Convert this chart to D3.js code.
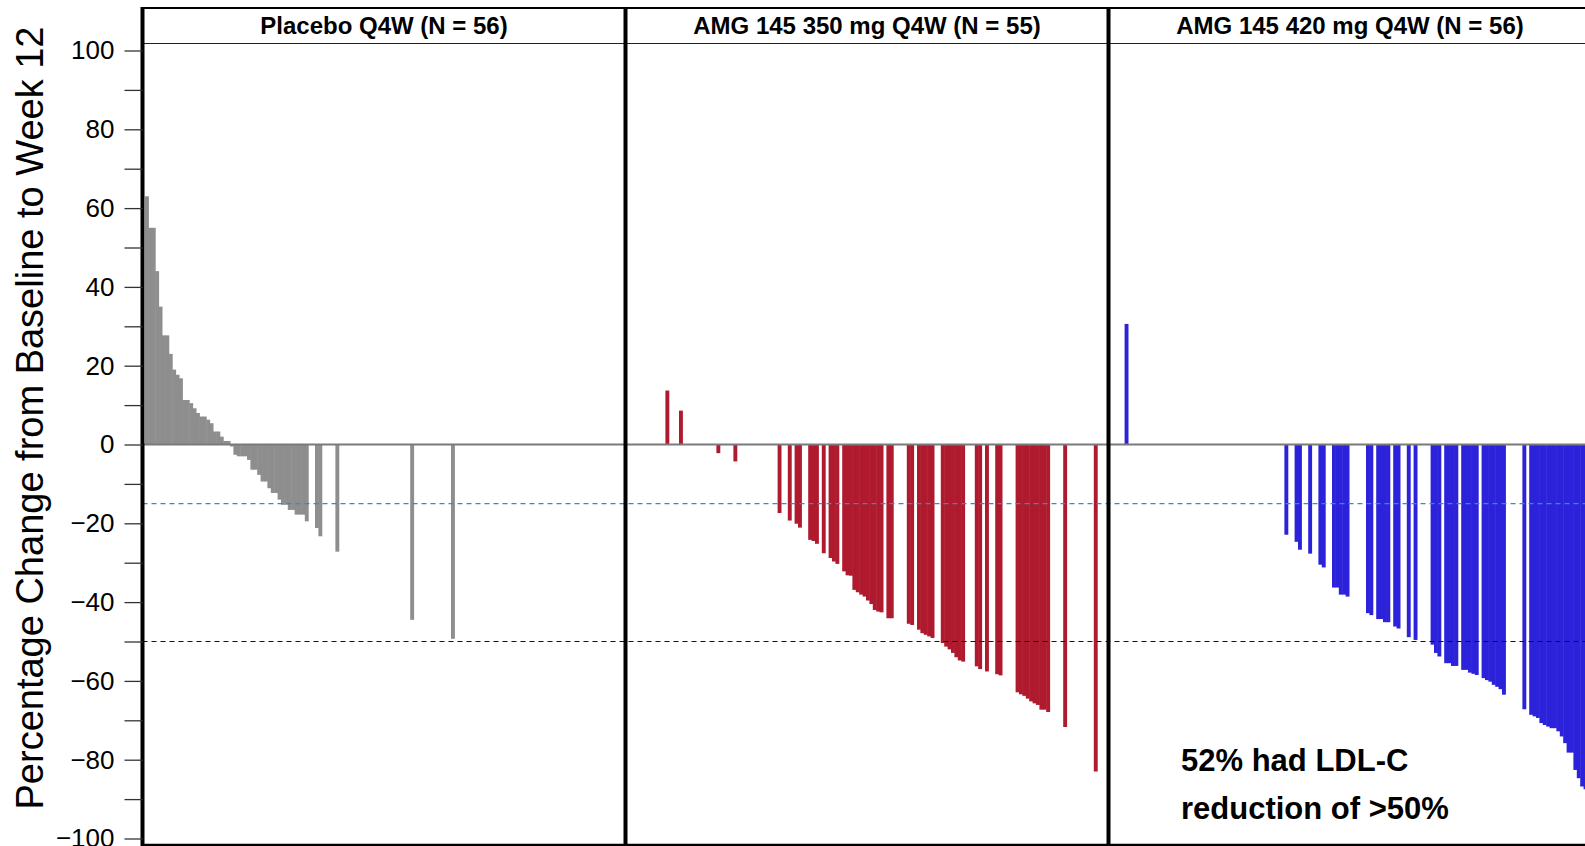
<!DOCTYPE html>
<html>
<head>
<meta charset="utf-8">
<script src="https://cdn.jsdelivr.net/npm/d3@7"></script>
<style>
  body { margin: 0; background: #fff; }
  svg { display: block; font-family: "Liberation Sans", Arial, sans-serif; }
</style>
</head>
<body>
<div id="chart"></div>
<script>
// panel titles
const panelTitles = ["Placebo Q4W (N = 56)", "AMG 145 350 mg Q4W (N = 55)", "AMG 145 420 mg Q4W (N = 56)"];
const panelColors = ["#8e8e8e", "#af1a2e", "#2b22da"];

// waterfall bars: slot = rank position in the panel, value = % change
const placeboSlots = [0,1,2,3,4,5,6,7,8,9,10,11,12,13,14,15,16,17,18,19,20,21,22,23,24,25,26,27,28,29,30,31,32,33,34,35,36,37,38,39,40,41,42,43,44,45,46,47,50,51,56,78,90];
const placeboValues = [63,55,55,44,35,27.7,27.7,23,19,17.7,16.8,11.3,11.3,10.5,9.2,8,7.1,7.1,6.3,5.4,3.3,3.3,2,0.9,0.9,-0.5,-2.6,-3,-3,-3,-3.9,-6.4,-6.4,-7.7,-9.4,-9.4,-11.1,-12.3,-12.3,-14,-15.3,-15.3,-16.6,-16.6,-17.8,-17.8,-17.8,-19.5,-21.2,-23.3,-27.2,-44.5,-49.3];

const dose350Slots = [11,15,26,31,44,47,49,50,53,54,55,57,59,60,61,63,64,65,66,67,68,69,70,71,72,73,74,76,77,82,83,85,86,87,88,89,92,93,94,95,96,97,98,102,103,105,108,109,114,115,116,117,118,119,120,121,122,123,128,137];
const dose350Values = [13.7,8.6,-2.2,-4.3,-17.4,-19.3,-20.1,-21.1,-24.2,-24.5,-25.2,-27.6,-28.8,-29.7,-30.3,-32.2,-33.2,-33.3,-36.9,-37.5,-38.1,-38.6,-39.6,-40.5,-42,-42.4,-42.6,-44.1,-44.1,-45.5,-45.8,-47,-47.9,-48.3,-48.7,-49.1,-50.4,-51.3,-52,-52.9,-54,-54.8,-55.1,-56.3,-57,-57.6,-58.3,-58.6,-62.9,-63.4,-63.8,-64.5,-65.2,-65.7,-66.1,-67.3,-67.3,-67.9,-71.7,-83];

const dose420Slots = [4,51,54,55,58,61,62,65,66,67,68,69,75,76,78,79,80,81,83,84,87,89,94,95,96,98,99,100,101,103,104,105,106,107,109,110,111,112,113,114,115,121,123,124,125,126,127,128,129,130,131,132,133,134,135,136,137,138,139,140,141];
const dose420Values = [30.6,-22.9,-24.7,-26.7,-27.7,-30.5,-31.2,-36.3,-36.3,-38.1,-38.1,-38.6,-42.8,-43.3,-44.3,-44.3,-45.1,-45.1,-46.2,-46.7,-48.9,-49.6,-50.8,-52.9,-53.8,-55.5,-55.5,-56.2,-56.2,-57.2,-57.2,-57.9,-58.2,-58.5,-59.3,-59.8,-60.2,-61,-61.5,-62.1,-63.5,-67.2,-68.6,-69,-69.4,-70.7,-71.2,-71.6,-72,-72,-72.8,-74.1,-75.8,-78.2,-78.2,-82.6,-84.7,-86.8,-87.5,-89,-90];

// reference lines
const refLines = [{ v: -15, color: "#2a8fd0" }, { v: -50, color: "#111" }];
const annotation = ["52% had LDL-C", "reduction of >50%"];

const panels = [
  { slots: placeboSlots, values: placeboValues },
  { slots: dose350Slots, values: dose350Values },
  { slots: dose420Slots, values: dose420Values }
];

const width = 1585, height = 846;
const frameTop = 8, headerBottom = 43.5, frameBottom = 845;
const panelW = 483;

const svg = d3.select("#chart").append("svg")
  .attr("width", width).attr("height", height);

const y = d3.scaleLinear().domain([-100, 100]).range([838.5, 50.5]);
const px = d3.scaleLinear().domain([0, 3]).range([142.5, 142.5 + 3 * panelW]);
const sx = d3.scaleLinear().domain([0, 141]).range([2.5, 2.5 + 141 * 3.4]);
const bw = sx(1) - sx(0);

// bars
panels.forEach((p, i) => {
  const bars = p.slots.map((s, k) => ({ s: s, v: p.values[k] }));
  svg.append("g")
    .selectAll("rect")
    .data(bars)
    .enter()
    .append("rect")
    .attr("x", d => px(i) + sx(d.s))
    .attr("width", bw + 0.5)
    .attr("y", d => y(Math.max(0, d.v)))
    .attr("height", d => Math.abs(y(d.v) - y(0)))
    .attr("fill", panelColors[i]);
});

// zero line
svg.append("line")
  .attr("x1", px(0)).attr("x2", width)
  .attr("y1", y(0)).attr("y2", y(0))
  .attr("stroke", "#7a7a7a").attr("stroke-width", 2);

// dashed reference lines
svg.selectAll(".ref")
  .data(refLines)
  .enter()
  .append("line")
  .attr("class", "ref")
  .attr("x1", px(0)).attr("x2", width)
  .attr("y1", d => y(d.v)).attr("y2", d => y(d.v))
  .attr("stroke", d => d.color)
  .attr("stroke-width", 1.2)
  .attr("stroke-dasharray", "5,4");

// frame
svg.append("line")
  .attr("x1", px(0)).attr("x2", width)
  .attr("y1", frameTop).attr("y2", frameTop)
  .attr("stroke", "#000").attr("stroke-width", 2);
svg.append("line")
  .attr("x1", px(0)).attr("x2", width)
  .attr("y1", headerBottom).attr("y2", headerBottom)
  .attr("stroke", "#222").attr("stroke-width", 1);
svg.append("line")
  .attr("x1", px(0)).attr("x2", width)
  .attr("y1", frameBottom).attr("y2", frameBottom)
  .attr("stroke", "#000").attr("stroke-width", 2.5);
svg.selectAll(".divider")
  .data([0, 1, 2, 3])
  .enter()
  .append("line")
  .attr("x1", d => px(d)).attr("x2", d => px(d))
  .attr("y1", frameTop - 1).attr("y2", frameBottom + 1)
  .attr("stroke", "#000").attr("stroke-width", 4);

// panel headers
svg.selectAll(".title")
  .data(panelTitles)
  .enter()
  .append("text")
  .attr("x", (d, i) => px(i) + panelW / 2)
  .attr("y", 34)
  .attr("text-anchor", "middle")
  .attr("font-size", 24)
  .attr("font-weight", "bold")
  .text(d => d);

// y axis
const axis = d3.axisLeft(y)
  .tickValues(d3.range(-100, 101, 10))
  .tickFormat(d => d % 20 === 0 ? d3.format("d")(d) : "")
  .tickSize(18)
  .tickPadding(10);
const ax = svg.append("g")
  .attr("transform", `translate(${px(0)},0)`)
  .call(axis);
ax.select(".domain").remove();
ax.selectAll(".tick line").attr("stroke", "#333").attr("stroke-width", 1.3);
ax.selectAll(".tick text")
  .attr("font-size", 26)
  .attr("fill", "#000")
  .attr("font-family", "'Liberation Sans', Arial, sans-serif");

svg.append("text")
  .attr("transform", "translate(43,418) rotate(-90)")
  .attr("text-anchor", "middle")
  .attr("font-size", 38)
  .text("Percentage Change from Baseline to Week 12");

// annotation
svg.append("text")
  .attr("x", 1181)
  .attr("y", 771)
  .attr("font-size", 31)
  .attr("font-weight", "bold")
  .selectAll("tspan")
  .data(annotation)
  .enter()
  .append("tspan")
  .attr("x", 1181)
  .attr("dy", (d, i) => i === 0 ? 0 : 48)
  .text(d => d);
</script>
</body>
</html>
